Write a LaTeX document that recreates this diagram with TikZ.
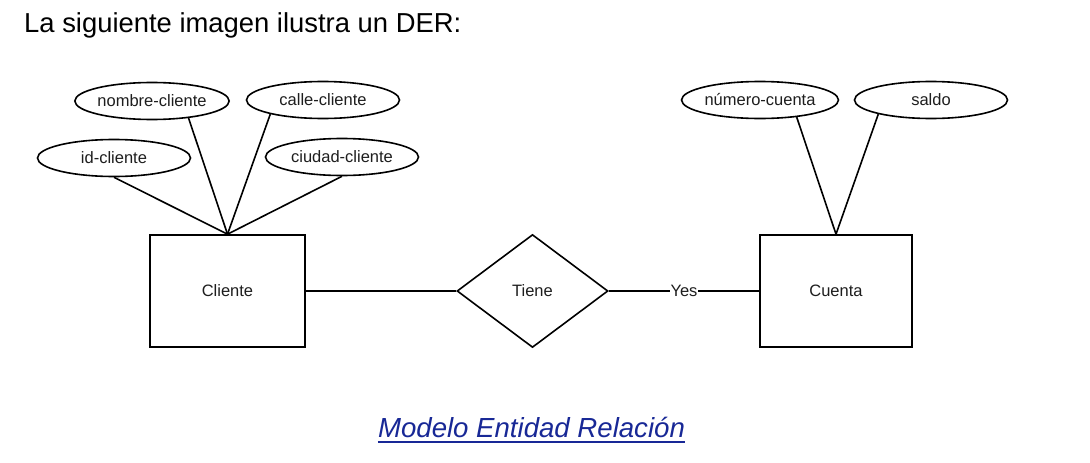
\documentclass[tikz,border=0pt]{standalone}
\usepackage{fontspec}
\setmainfont{Liberation Sans}
\usetikzlibrary{shapes.geometric}
\definecolor{linkblue}{RGB}{24,40,150}
\definecolor{inkgray}{RGB}{30,30,30}
\begin{document}
\begin{tikzpicture}[x=1pt,y=-1pt,
  lbl/.style={font=\fontsize{16.5}{19}\selectfont, text=inkgray},
  attr/.style={ellipse,draw,line width=1.6pt,minimum width=153pt,minimum height=37pt,inner sep=0pt,lbl},
  entity/.style={rectangle,draw,line width=1.6pt,minimum height=112pt,inner sep=0pt,lbl},
  rel/.style={diamond,draw,line width=1.6pt,minimum width=151pt,minimum height=113pt,inner sep=0pt,lbl},
  conn/.style={line width=1.6pt},
  big/.style={font=\fontsize{27.4}{32}\selectfont, inner sep=0pt}]
\useasboundingbox (0,0) rectangle (1090,463);
\fill[white] (0,0) rectangle (1090,463);
% title
\node[big, anchor=base west] (title) at (24,32) {La siguiente imagen ilustra un DER:};
% entities
\node[entity, minimum width=155pt] (cliente) at (227.5,291) {Cliente};
\node[entity, minimum width=152pt] (cuenta) at (836,291) {Cuenta};
\node[rel] (tiene) at (532.5,291) {Tiene};
% attributes
\node[attr] (nombre) at (152,101) {nombre-cliente};
\node[attr] (calle) at (323,100) {calle-cliente};
\node[attr] (idc) at (114,158) {id-cliente};
\node[attr] (ciudad) at (342,157) {ciudad-cliente};
\node[attr] (numero) at (760,100) {número-cuenta};
\node[attr] (saldo) at (931,100) {saldo};
% attribute links
\draw[conn] (idc.south) -- (cliente.north);
\draw[conn] (nombre.-25) -- (cliente.north);
\draw[conn] (calle.195) -- (cliente.north);
\draw[conn] (ciudad.south) -- (cliente.north);
\draw[conn] (numero.-25) -- (cuenta.north);
\draw[conn] (saldo.195) -- (cuenta.north);
% relationship links
\draw[conn] (cliente.east) -- (tiene.west);
\draw[conn] (tiene.east) -- node[lbl, fill=white, inner sep=1pt] (yes) {Yes} (cuenta.west);
% footer link
\node[big, anchor=base, text=linkblue, font=\fontsize{27.6}{32}\selectfont\itshape] (footer) at (531.5,437) {Modelo Entidad Relación};
\draw[linkblue, line width=1.8pt] ([yshift=-5pt]footer.base west) -- ([yshift=-5pt]footer.base east);
\end{tikzpicture}
\end{document}
